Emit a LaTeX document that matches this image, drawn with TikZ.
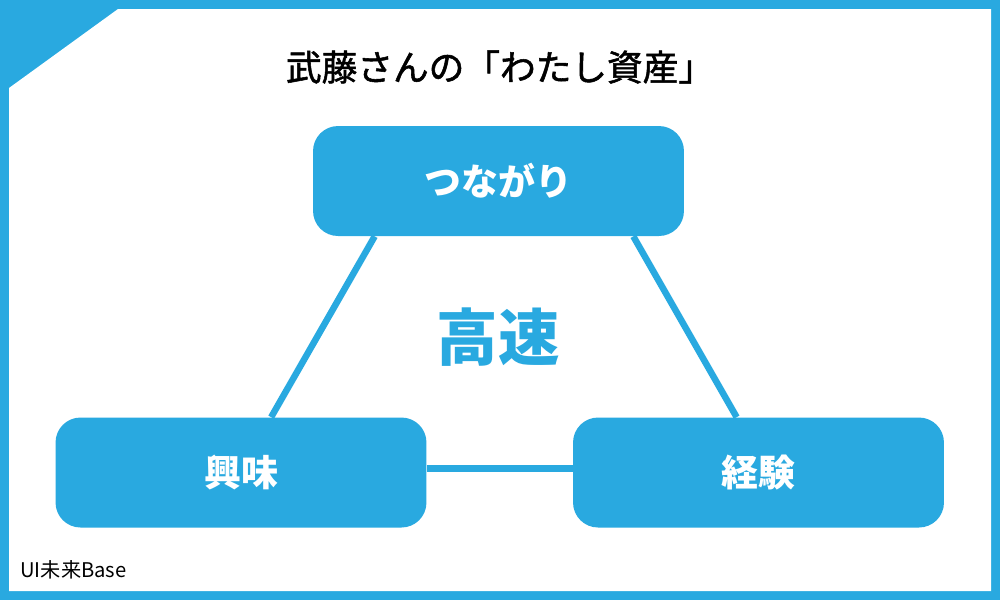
\documentclass[tikz,border=0pt]{standalone}
\usepackage{fontspec}
\setmainfont{Noto Sans CJK JP}
\newfontfamily\midfont[FakeBold=1.5]{Noto Sans CJK JP}
\usetikzlibrary{backgrounds}
\definecolor{sora}{HTML}{29A9E0}

\begin{document}
\begin{tikzpicture}[x=0.02cm,y=-0.02cm,
  box/.style={fill=sora,rounded corners=0.5cm,minimum width=7.42cm,
    minimum height=2.2cm,text=white,font=\bfseries\fontsize{21}{21}\selectfont},
  link/.style={draw=sora,line width=3.7pt}]
\useasboundingbox (0,0) rectangle (1000,600);
% 枠（左上は斜めに切る）
\begin{scope}[on background layer]
\fill[sora] (0,0) rectangle (1000,600);
\fill[white] (9,88) -- (118,9) -- (991,9) -- (991,591) -- (9,591) -- cycle;
\end{scope}
% タイトル
\node[font=\midfont\fontsize{20.3}{20.3}\selectfont] (title) at (500,67) {武藤さんの「わたし資産」};
% 三つの箱
\node[box] (tsunagari) at (498.5,181) {つながり};
\node[box] (kyomi) at (241,472.5) {興味};
\node[box] (keiken) at (758.5,472.5) {経験};
% 中央の文字
\node[text=sora,font=\bfseries\fontsize{35}{35}\selectfont] (kosoku) at (498,337) {高速};
% 箱をつなぐ線（箱の下に敷く）
\begin{scope}[on background layer]
\draw[link] ([xshift=1.24cm]tsunagari.south west) -- ([xshift=4.32cm]kyomi.north west);
\draw[link] ([xshift=-1.02cm]tsunagari.south east) -- ([xshift=3.28cm]keiken.north west);
\draw[link] ([yshift=0.08cm]kyomi.east) -- ([yshift=0.08cm]keiken.west);
\end{scope}
% 左下の小さな文字
\node[anchor=west,font=\fontsize{11.5}{11.5}\selectfont,inner sep=0pt] (base) at (20,570) {UI未来Base};
\end{tikzpicture}
\end{document}
